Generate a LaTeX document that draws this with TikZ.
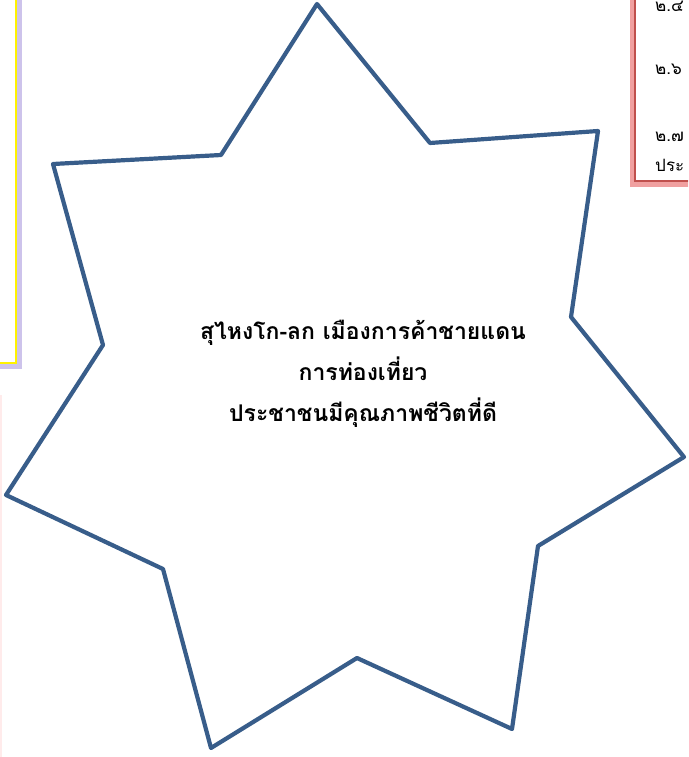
\documentclass[tikz,border=0pt]{standalone}
\usepackage{fontspec}
\newfontfamily\thaifont[Script=Thai]{Loma}
\usetikzlibrary{positioning}
\definecolor{starblue}{HTML}{385D8A}
\definecolor{boxred}{HTML}{C0504D}
\definecolor{glowred}{RGB}{240,160,160}
\definecolor{glowlilac}{RGB}{205,195,235}
\tikzset{
  starline/.style={draw=starblue,line width=4.2,line join=round},
  title/.style={font=\thaifont\bfseries\fontsize{23}{41}\selectfont,align=center},
  note/.style={font=\thaifont\fontsize{17}{18}\selectfont,anchor=base west,inner sep=0pt},
  yframe/.style={draw=yellow,line width=2},
  rframe/.style={draw=boxred,line width=2}
}

\begin{document}
\begin{tikzpicture}[x=1pt,y=-1pt]
  \useasboundingbox (0,0) rectangle (688,757);
  \clip (0,0) rectangle (688,757);
  % yellow box on the left, cut by the edge
  \draw[glowlilac,line width=5] (-10,366) -- (19,366) -- (19,-10);
  \draw[yframe] (-10,363) -- (16,363) -- (16,-10);
  % faint box lower left
  \draw[red!8,line width=1.5] (1,395) -- (1,770);
  % red box on the right
  \draw[glowred,line width=5] (632,-10) -- (632,184) -- (700,184);
  \draw[rframe] (635,-10) -- (635,181) -- (700,181);
  \node[note] (n24) at (655,12) {๒.๔};
  \node[note] (n26) at (655,75) {๒.๖};
  \node[note] (n27) at (655,141) {๒.๗};
  \node[note] (n27b) at (655,171) {ประ};
  % the star
  \draw[starline] (317,4) -- (430,143) -- (598,131) -- (571,317) -- (684,457)
    -- (538,546) -- (512,729) -- (357,658) -- (211,748) -- (163,569)
    -- (6,495) -- (103,345) -- (53,164) -- (221,155) -- cycle;
  \node[title] (motto) at (363,374) {สุไหงโก-ลก เมืองการค้าชายแดน\\การท่องเที่ยว\\ประชาชนมีคุณภาพชีวิตที่ดี};
\end{tikzpicture}
\end{document}
